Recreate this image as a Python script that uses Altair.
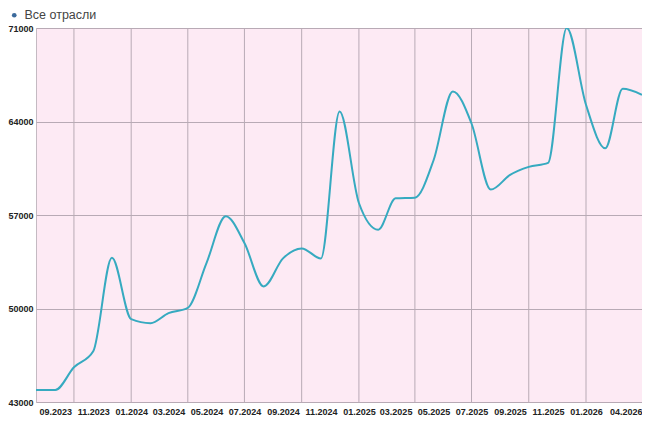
import altair as alt
import pandas as pd

# monthly points, Aug 2023 .. Apr 2026
months = pd.date_range("2023-08-01", "2026-04-01", freq="MS").strftime("%Y-%m-%d").tolist()
values = [43900, 43900, 45600, 46800, 53800, 49200, 48900, 49650, 50050, 53400,
          56900, 54900, 51650, 53750, 54500, 53750, 64750, 57900, 55900, 58250,
          58300, 61100, 66250, 63850, 58900, 60000, 60600, 60900, 71000, 65250,
          62000, 66450, 66000]
series = "Все отрасли"

# x tick labels (every 2 months + last) and vertical grid lines (quarterly)
label_months = [(2023, 9), (2023, 11), (2024, 1), (2024, 3), (2024, 5), (2024, 7),
                (2024, 9), (2024, 11), (2025, 1), (2025, 3), (2025, 5), (2025, 7),
                (2025, 9), (2025, 11), (2026, 1), (2026, 4)]
grid_months = ["2023-10-01", "2024-01-01", "2024-04-01", "2024-07-01", "2024-10-01",
               "2025-01-01", "2025-04-01", "2025-07-01", "2025-10-01", "2026-01-01"]
y_ticks = [43000, 50000, 57000, 64000, 71000]

df = pd.DataFrame({"month": months, "value": values, "series": series})
grid = pd.DataFrame({"month": grid_months})

font = "Liberation Sans"

x_scale = alt.Scale(type="utc",
                    domain=[alt.DateTime(year=2023, month=8, date=1, utc=True),
                            alt.DateTime(year=2026, month=4, date=1, utc=True)])

x_axis = alt.Axis(values=[alt.DateTime(year=y, month=m, date=1, utc=True) for y, m in label_months],
                  format="%m.%Y", grid=False, ticks=False, domain=False,
                  labelFont=font, labelFontSize=9, labelFontWeight="bold",
                  labelColor="#222", labelPadding=5, title=None)

y_axis = alt.Axis(values=y_ticks, format="d", grid=True, gridColor="#b8aab5", gridOpacity=1,
                  ticks=False, domain=False, labelFont=font, labelFontSize=9,
                  labelFontWeight="bold", labelColor="#222", labelPadding=3, title=None)

vlines = alt.Chart(grid).mark_rule(color="#b8aab5", strokeWidth=1).encode(
    x=alt.X("month:T", scale=x_scale, axis=x_axis)
)

line = alt.Chart(df).mark_line(interpolate="monotone", strokeWidth=2, clip=True).encode(
    x=alt.X("month:T", scale=x_scale, axis=x_axis),
    y=alt.Y("value:Q", scale=alt.Scale(domain=[43000, 71000], nice=False, zero=False), axis=y_axis),
    color=alt.Color("series:N", scale=alt.Scale(range=["#36aac0"]),
                    legend=alt.Legend(title=None, orient="none", legendX=-28, legendY=-19,
                                      symbolType="circle", symbolSize=22,
                                      symbolFillColor="#3c6a9c", symbolStrokeWidth=0,
                                      labelFont=font, labelFontSize=12.5, labelColor="#444",
                                      labelOffset=4)),
)

chart = alt.layer(vlines, line).properties(
    width=606, height=374,
    autosize=alt.AutoSizeParams(type="none"),
    padding={"left": 28, "top": 20, "right": 0, "bottom": 14},
    background="white",
).configure_view(fill="#fdeaf4", stroke="#c4bac2", strokeWidth=1)

chart.save("out.html", embed_options={"renderer": "svg", "actions": False})
